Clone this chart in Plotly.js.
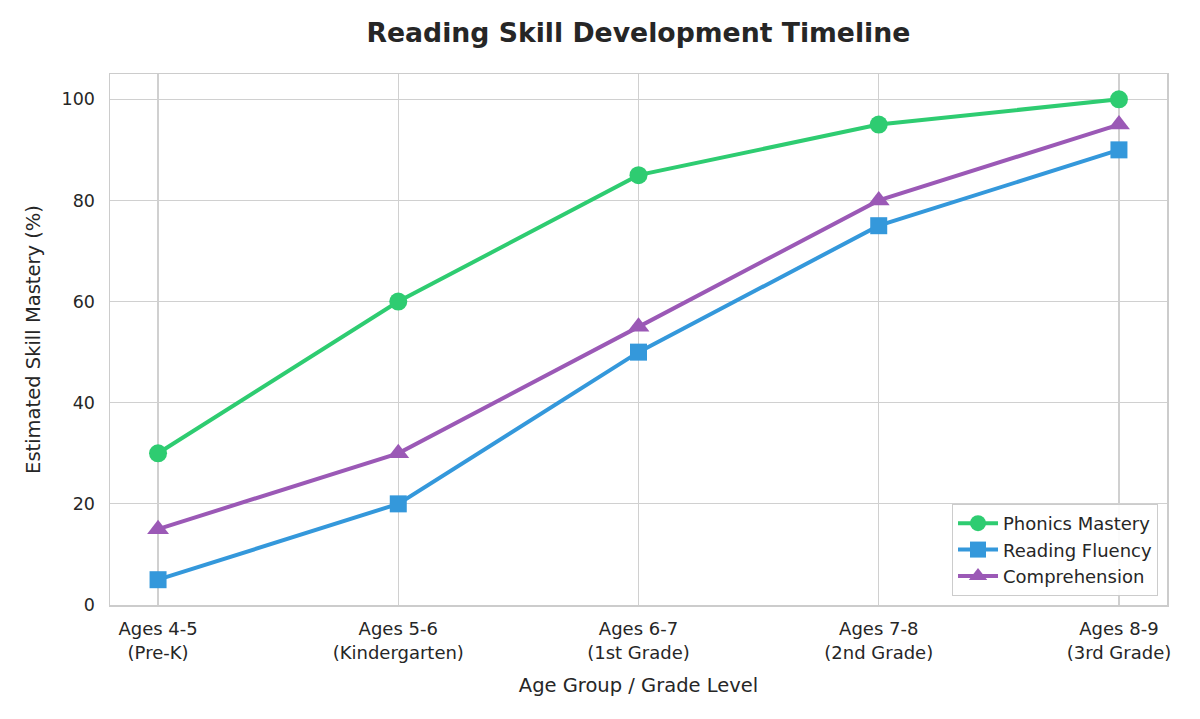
<!DOCTYPE html>
<html>
<head>
<meta charset="utf-8">
<script src="https://cdn.plot.ly/plotly-3.0.1.min.js"></script>
<style>html,body{margin:0;padding:0;background:#fff;}#chart{width:1200px;height:719px;}</style>
</head>
<body>
<div id="chart"></div>
<script>
const categories = ["Ages 4-5<br>(Pre-K)", "Ages 5-6<br>(Kindergarten)", "Ages 6-7<br>(1st Grade)", "Ages 7-8<br>(2nd Grade)", "Ages 8-9<br>(3rd Grade)"];
const phonics = [30, 60, 85, 95, 100];
const fluency = [5, 20, 50, 75, 90];
const comprehension = [15, 30, 55, 80, 95];
const seriesNames = ["Phonics Mastery", "Reading Fluency", "Comprehension"];
const yTicks = [0, 20, 40, 60, 80, 100];

const xIdx = categories.map((_, i) => i);
function tr(name, y, color, symbol, size) {
  return {
    type: 'scatter', mode: 'lines+markers', name: name,
    x: xIdx, y: y,
    line: {color: color, width: 4},
    marker: {color: color, size: size, symbol: symbol}
  };
}
const data = [
  tr(seriesNames[0], phonics, '#2ecc71', 'circle', 18),
  tr(seriesNames[1], fluency, '#3498db', 'square', 17),
  tr(seriesNames[2], comprehension, '#9b59b6', 'triangle-up', 19)
];
const font = "DejaVu Sans, sans-serif";
const layout = {
  width: 1200, height: 719,
  margin: {l: 110, r: 33, t: 74, b: 114},
  paper_bgcolor: '#fff', plot_bgcolor: '#fff',
  font: {family: font, color: '#262626', size: 18},
  title: {text: '<b>Reading Skill Development Timeline</b>', xref: 'container', x: 0.532, xanchor: 'center', yref: 'container', y: 0.955, yanchor: 'middle', font: {family: font, size: 26.7, color: '#262626'}},
  xaxis: {
    range: [-0.2, 4.2], tickvals: xIdx, ticktext: categories,
    showgrid: true, gridcolor: '#d0d0d0', gridwidth: 1.2,
    showline: true, linecolor: '#cccccc', linewidth: 1.5, mirror: true,
    zeroline: false, ticks: '', tickfont: {size: 18}, ticklabelstandoff: 7,
    title: {text: 'Age Group / Grade Level', font: {size: 19.5}, standoff: 17}
  },
  yaxis: {
    range: [0, 105], tickvals: yTicks,
    showgrid: true, gridcolor: '#d0d0d0', gridwidth: 1.2,
    showline: true, linecolor: '#cccccc', linewidth: 1.5, mirror: true,
    zeroline: false, ticks: '', tickfont: {size: 17.5}, ticklabelstandoff: 10,
    title: {text: 'Estimated Skill Mastery (%)', font: {size: 19.5}, standoff: 16}
  },
  legend: {x: 0.9915, y: 0.017, xanchor: 'right', yanchor: 'bottom',
    bgcolor: 'rgba(255,255,255,0.9)', bordercolor: '#cccccc', borderwidth: 1,
    font: {size: 18}, tracegroupgap: 0, itemwidth: 40},
  showlegend: true
};
Plotly.newPlot('chart', data, layout, {displayModeBar: false, staticPlot: true});
</script>
</body>
</html>
